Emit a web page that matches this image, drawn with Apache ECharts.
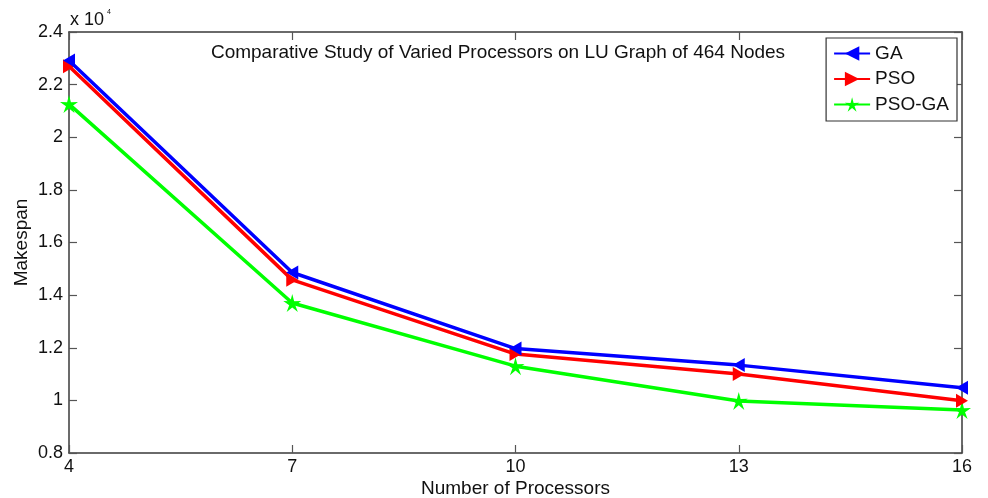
<!DOCTYPE html>
<html><head><meta charset="utf-8">
<script src="https://cdn.jsdelivr.net/npm/echarts@6/dist/echarts.min.js"></script>
<style>html,body{margin:0;padding:0;background:#fff}#c{width:988px;height:498px}</style>
</head><body><div id="c"></div>
<script>
const categories = ['4', '7', '10', '13', '16'];
const gaValues = [2.292, 1.486, 1.197, 1.134, 1.048];
const psoValues = [2.270, 1.458, 1.176, 1.100, 0.999];
const psoGaValues = [2.126, 1.370, 1.130, 0.998, 0.963];
const seriesNames = ['GA', 'PSO', 'PSO-GA'];
const yTicks = {min: 0.8, max: 2.4, step: 0.2};

const FONT = 'Liberation Sans, Arial, sans-serif';
const starPath = 'path://M0,-10 L2,-2.8 L9.5,-3.1 L3.2,1.2 L5.9,8.1 L0,3.5 L-5.9,8.1 L-3.2,1.2 L-9.5,-3.1 L-2,-2.8 Z';

const chart = echarts.init(document.getElementById('c'), null, {renderer: 'canvas'});
const axisLine = {show: true, lineStyle: {color: '#3a3a3a', width: 1.5}};
const tick = {show: true, inside: true, length: 8, lineStyle: {color: '#555', width: 1.2}};
chart.setOption({
  animation: false,
  backgroundColor: '#fff',
  grid: {left: 69, right: 26, top: 32, bottom: 45, containLabel: false, outerBoundsMode: 'none'},
  title: {
    text: 'Comparative Study of Varied Processors on LU Graph of 464 Nodes',
    left: 493, top: 38, textAlign: 'center',
    textStyle: {fontFamily: FONT, fontSize: 19, fontWeight: 'normal', color: '#111'}
  },
  legend: {
    data: seriesNames,
    orient: 'vertical',
    right: 31, top: 38,
    padding: [6, 8, 7, 7],
    itemGap: 6.5,
    itemWidth: 36, itemHeight: 18,
    borderColor: '#333', borderWidth: 1.2,
    backgroundColor: '#fff',
    textStyle: {fontFamily: FONT, fontSize: 19, color: '#111'}
  },
  graphic: [
    {type: 'text', left: 70, top: 11, style: {text: 'x 10', fontFamily: FONT, fontSize: 18, fill: '#111'}},
    {type: 'text', left: 107, top: 9, style: {text: '4', fontFamily: FONT, fontSize: 7, fill: '#111'}}
  ],
  xAxis: [{
    type: 'category', data: categories, boundaryGap: false,
    name: 'Number of Processors', nameLocation: 'middle', nameGap: 26, nameMoveOverlap: false,
    nameTextStyle: {fontFamily: FONT, fontSize: 19, color: '#111'},
    axisLine: axisLine, axisTick: Object.assign({alignWithLabel: true}, tick),
    axisLabel: {fontFamily: FONT, fontSize: 18, color: '#111', margin: 5},
    splitLine: {show: false}
  }, {
    type: 'category', data: categories, boundaryGap: false, position: 'top',
    axisLine: axisLine, axisTick: Object.assign({alignWithLabel: true}, tick),
    axisLabel: {show: false}, splitLine: {show: false}
  }],
  yAxis: [{
    type: 'value', min: yTicks.min, max: yTicks.max, interval: yTicks.step,
    name: 'Makespan', nameLocation: 'middle', nameGap: 38, nameRotate: 90, nameMoveOverlap: false,
    nameTextStyle: {fontFamily: FONT, fontSize: 19, color: '#111'},
    axisLine: axisLine, axisTick: tick,
    axisLabel: {fontFamily: FONT, fontSize: 18, color: '#111', margin: 6,
      formatter: v => String(parseFloat(v.toFixed(1)))},
    splitLine: {show: false}
  }, {
    type: 'value', min: yTicks.min, max: yTicks.max, interval: yTicks.step, position: 'right',
    axisLine: axisLine, axisTick: tick, axisLabel: {show: false}, splitLine: {show: false}
  }],
  series: [{
    name: seriesNames[0], type: 'line', data: gaValues,
    color: '#0000ff', lineStyle: {width: 3.5, color: '#0000ff'},
    symbol: 'triangle', symbolSize: [14, 12], symbolRotate: 90, showAllSymbol: true,
    itemStyle: {color: '#0000ff', borderWidth: 0}, z: 5
  }, {
    name: seriesNames[1], type: 'line', data: psoValues,
    color: '#ff0000', lineStyle: {width: 3.5, color: '#ff0000'},
    symbol: 'triangle', symbolSize: [14, 12], symbolRotate: -90, showAllSymbol: true,
    itemStyle: {color: '#ff0000', borderWidth: 0}, z: 4
  }, {
    name: seriesNames[2], type: 'line', data: psoGaValues,
    color: '#00ff00', lineStyle: {width: 3.5, color: '#00ff00'},
    symbol: starPath, symbolSize: 18, showAllSymbol: true,
    itemStyle: {color: '#00ff00', borderWidth: 0}, z: 3
  }]
});
</script></body></html>
